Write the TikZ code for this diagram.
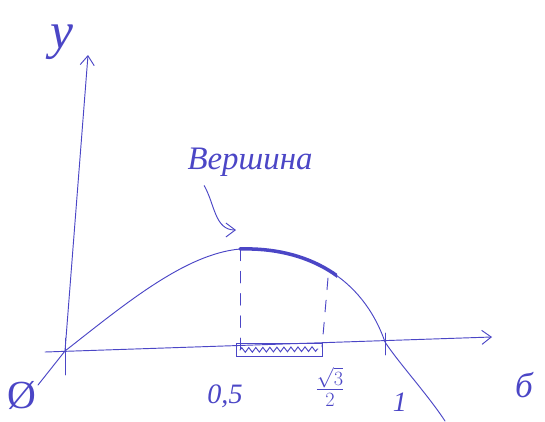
\documentclass[tikz,border=0pt]{standalone}
\usepackage{fontspec}
\setmainfont{Liberation Serif}
\definecolor{InkBlue}{HTML}{4B46C6}
\usetikzlibrary{arrows.meta,positioning,decorations.pathmorphing}

\begin{document}
\begin{tikzpicture}[x=0.03cm,y=-0.03cm,
  ink/.style={InkBlue,line width=0.8pt,line cap=round},
  axis/.style={ink,-{Straight Barb[length=8pt,width=12pt]}},
  guide/.style={ink,dashed,dash pattern=on 10pt off 9pt},
  lbl/.style={InkBlue,font=\itshape\fontsize{24}{26}\selectfont,inner sep=1pt}]
  \useasboundingbox (0,0) rectangle (545,421);
  % axes
  \coordinate (O) at (65,351);
  \coordinate (Xs) at (45,352);
  \coordinate (Xe) at (492,337);
  \coordinate (Ye) at (88,55);
  \draw[axis] (Xs) -- (Xe);
  \draw[axis] (O) -- (Ye);
  \draw[ink] (65,338) -- (65,375);
  \draw[ink] (385,333) -- (385,355);
  % parabola
  \coordinate (V) at (240,249);
  \coordinate (R) at (385,342);
  \draw[ink] (38,385) -- (O) .. controls (125,304) and (185,254) .. (V)
    .. controls (305,247) and (362,276) .. (R)
    .. controls (398,362) and (428,395) .. (445,421);
  \begin{scope}
    \clip (237,200) rectangle (337,300);
    \draw[ink,line width=3pt] (V) .. controls (305,247) and (362,276) .. (R);
  \end{scope}
  % vertex guides
  \coordinate (W) at (328,278);
  \coordinate (Va) at (240,350);
  \coordinate (Wa) at (322,347);
  \draw[guide] (V) -- (Va);
  \draw[guide] (W) -- (Wa);
  \draw[ink] (236,343) rectangle (322,356);
  \draw[ink,decorate,decoration={zigzag,segment length=6pt,amplitude=2pt}]
    (240,350) -- (318,349);
  % labels
  \node[lbl,font=\itshape\fontsize{44}{44}\selectfont] (ylab) at (62,42) {у};
  \node[lbl,font=\itshape\fontsize{30}{30}\selectfont] (xlab) at (524,385) {б};
  \node[lbl,font=\fontsize{34}{34}\selectfont] (zero) at (22,395) {Ø};
  \node[lbl] (half) at (225,396) {0,5};
  \node[lbl,font=\fontsize{26}{28}\selectfont] (root) at (330,387) {$\frac{\sqrt{3}}{2}$};
  \node[lbl] (one) at (400,402) {1};
  \node[lbl,font=\itshape\fontsize{28}{30}\selectfont] (top) at (250,162) {Вершина};
  \coordinate (Vtip) at (236,230);
  \draw[axis] (top.south west) ++(18,8) to[out=-60,in=180] (Vtip);
\end{tikzpicture}
\end{document}
